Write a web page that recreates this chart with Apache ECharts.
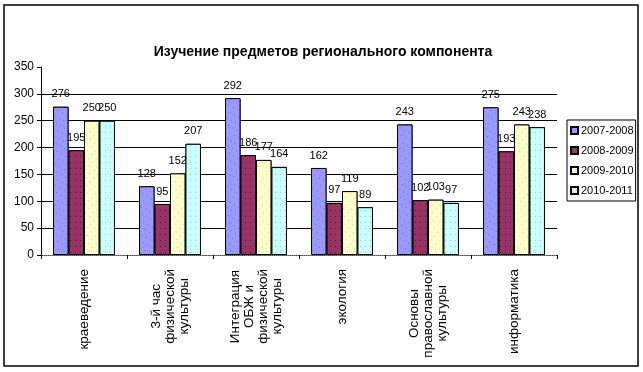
<!DOCTYPE html>
<html>
<head>
<meta charset="utf-8">
<script src="https://cdn.jsdelivr.net/npm/echarts@6/dist/echarts.min.js"></script>
<style>
html,body{margin:0;padding:0;background:#fff;}
#chart{width:643px;height:372px;}
</style>
</head>
<body>
<div id="chart"></div>
<script>
const titleText = 'Изучение предметов регионального компонента';
const categories = [
  'краеведение',
  '3-й час\nфизической\nкультуры',
  'Интеграция\nОБЖ и\nфизической\nкультуры',
  'экология',
  'Основы\nправославной\nкультуры',
  'информатика'
];
const seriesNames = ['2007-2008', '2008-2009', '2009-2010', '2010-2011'];
const s2007 = [276, 128, 292, 162, 243, 275];
const s2008 = [195, 95, 186, 97, 102, 193];
const s2009 = [250, 152, 177, 119, 103, 243];
const s2010 = [250, 207, 164, 89, 97, 238];
const yTicks = [0, 50, 100, 150, 200, 250, 300, 350];

const colors = ['#9999FF', '#993366', '#FFFFCC', '#CCFFFF'];
const dotColors = ['rgba(70,70,170,0.6)', 'rgba(30,0,20,0.6)', 'rgba(150,150,90,0.5)', 'rgba(90,160,160,0.5)'];
const values = [s2007, s2008, s2009, s2010];
const font = '"Liberation Sans", Arial, sans-serif';
const catFontSize = 13.5;

// measure label lines to centre multi-line rotated labels
const ctx = document.createElement('canvas').getContext('2d');
ctx.font = catFontSize + 'px "Liberation Sans"';
const rich = {};
const richBase = { fontFamily: font, fontSize: catFontSize, color: '#000', lineHeight: 14 };
rich.t = Object.assign({}, richBase);
const labelStrings = categories.map(function (cat) {
  const lines = cat.split('\n');
  const widths = lines.map(function (l) { return ctx.measureText(l).width; });
  const maxW = Math.max.apply(null, widths);
  return lines.map(function (l, i) {
    const pad = Math.round((maxW - widths[i]) / 2);
    if (pad < 1) return '{t|' + l + '}';
    const key = 'p' + pad;
    rich[key] = Object.assign({}, richBase, { width: pad });
    return '{t|' + l + '}{' + key + '| }';
  }).join('\n');
});

const chart = echarts.init(document.getElementById('chart'));
chart.setOption({
  animation: false,
  backgroundColor: '#fff',
  aria: { enabled: true, decal: { show: true } },
  title: {
    text: titleText,
    left: 318, textAlign: 'center',
    top: 40,
    textStyle: { fontFamily: font, fontSize: 14, fontWeight: 'bold', color: '#000' }
  },
  graphic: [{
    type: 'rect', silent: true, z: -1,
    shape: { x: 4, y: 5, width: 634, height: 361 },
    style: { fill: 'none', stroke: '#000', lineWidth: 1.5 }
  }],
  legend: {
    orient: 'vertical',
    left: 567, top: 120,
    padding: [4, 2, 4, 3],
    itemWidth: 7, itemHeight: 7,
    itemGap: 7,
    icon: 'rect',
    borderColor: '#000', borderWidth: 1,
    textStyle: { fontFamily: font, fontSize: 11, color: '#000', padding: [0, 0, 0, -2], lineHeight: 13 },
    data: seriesNames
  },
  grid: { left: 41, right: 86, top: 67, bottom: 117, containLabel: false },
  xAxis: {
    type: 'category',
    data: categories,
    axisLine: { lineStyle: { color: '#808080', type: 'dotted', width: 1 } },
    axisTick: { show: true, length: 4, lineStyle: { color: '#000' } },
    axisLabel: {
      rotate: 90,
      align: 'right',
      margin: 14,
      interval: 0,
      fontFamily: font, fontSize: catFontSize, color: '#000',
      formatter: function (v, idx) { return labelStrings[idx]; },
      rich: rich
    }
  },
  yAxis: {
    type: 'value',
    min: 0, max: 350, interval: 50,
    axisLine: { show: true, lineStyle: { color: '#000' } },
    axisTick: { show: true, length: 4, lineStyle: { color: '#000' } },
    axisLabel: { fontFamily: font, fontSize: 12, color: '#000', margin: 7 },
    splitLine: { show: true, lineStyle: { color: ['#000', '#000', '#000', '#000', '#000', '#000', '#000', 'rgba(0,0,0,0)'], width: 1 } }
  },
  series: seriesNames.map(function (name, i) {
    return {
      name: name,
      type: 'bar',
      data: values[i],
      barGap: '0%',
      barCategoryGap: '28%',
      itemStyle: {
        color: colors[i], borderColor: '#000', borderWidth: 1,
        decal: { symbol: 'rect', symbolSize: 1, dashArrayX: [1, 4], dashArrayY: [1, 5], color: dotColors[i], backgroundColor: colors[i] }
      },
      label: {
        show: true, position: 'top', distance: 7,
        fontFamily: font, fontSize: 11, color: '#000'
      }
    };
  })
});
</script>
</body>
</html>
